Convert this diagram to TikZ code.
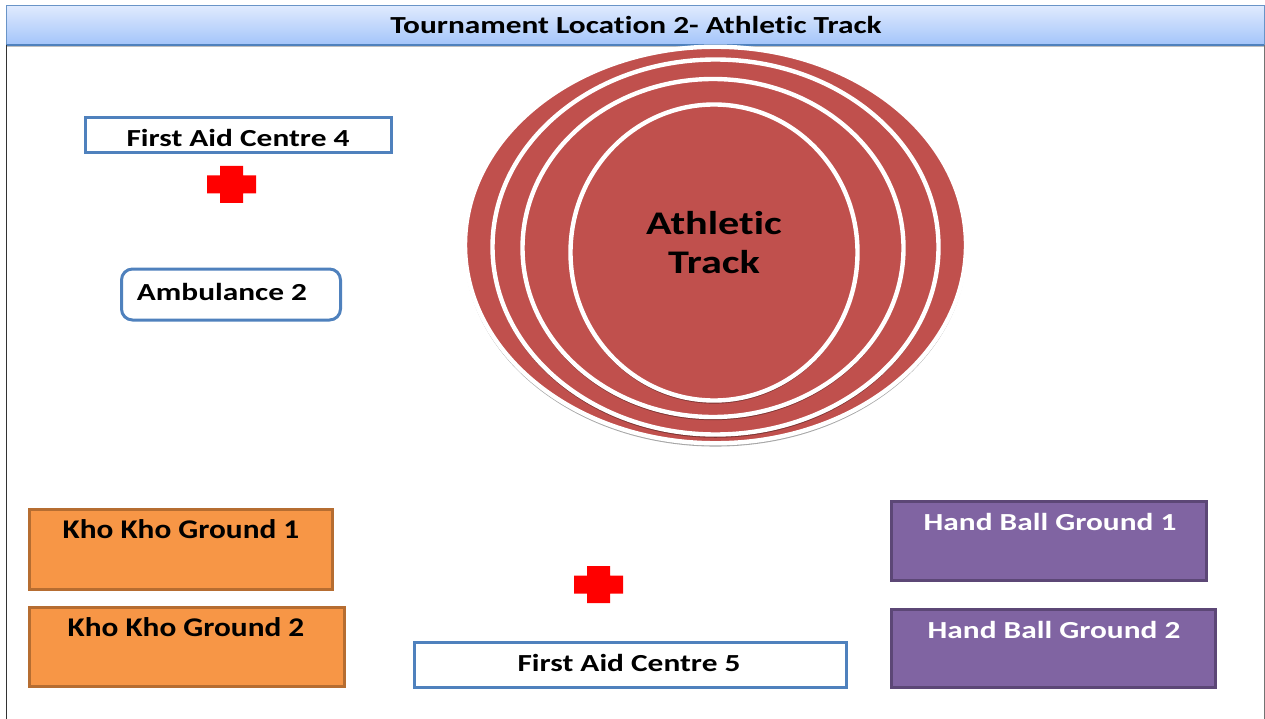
\documentclass[tikz,border=0pt]{standalone}
\usepackage{fontspec}
\setmainfont[FakeStretch=1.28,Ligatures=NoCommon]{Carlito}
\newfontfamily\plainfont[FakeStretch=1.16,Ligatures=NoCommon]{Carlito}
\usetikzlibrary{shapes.geometric,shadows}

\definecolor{headtop}{HTML}{DFEAFE}
\definecolor{headbot}{HTML}{A3C4FA}
\definecolor{blueline}{HTML}{4F81BD}
\definecolor{trackred}{HTML}{C0504D}
\definecolor{khofill}{HTML}{F79646}
\definecolor{khoedge}{HTML}{B66D31}
\definecolor{handfill}{HTML}{8064A2}
\definecolor{handedge}{HTML}{5C4776}

\tikzset{
  softshadow/.style={drop shadow={shadow xshift=0pt,shadow yshift=-2.5pt,shadow scale=1.004,opacity=.35,fill=black}},
  headshadow/.style={drop shadow={shadow xshift=0pt,shadow yshift=-2.5pt,opacity=.25,fill=black}},
  track/.style={ellipse,fill=trackred,draw=white,line width=4.4pt,inner sep=0pt,outer sep=0pt,softshadow},
  aidbox/.style={rectangle,draw=blueline,line width=3pt,fill=white,inner sep=0pt,outer sep=0pt},
  khobox/.style={rectangle,draw=khoedge,fill=khofill,line width=3pt,inner sep=0pt,outer sep=0pt},
  handbox/.style={rectangle,draw=handedge,fill=handfill,line width=3pt,inner sep=0pt,outer sep=0pt},
  boxtext/.style={font=\fontsize{24.5}{29}\selectfont\bfseries,inner sep=0pt},
  khotext/.style={font=\fontsize{27}{32}\selectfont\bfseries\plainfont,inner sep=0pt},
  redcross/.pic={
    \fill[red] (-24.5,-9) -- (-11.5,-9) -- (-11.5,-18.5) -- (11.5,-18.5) -- (11.5,-9) -- (24.5,-9)
      -- (24.5,9) -- (11.5,9) -- (11.5,18.5) -- (-11.5,18.5) -- (-11.5,9) -- (-24.5,9) -- cycle;
  }
}

\begin{document}
\begin{tikzpicture}[x=1pt,y=-1pt]
  \useasboundingbox (0,0) rectangle (1265,719);
  \coordinate (pagefoot) at (0,719);

  % header bar
  \node [rectangle,minimum width=1258pt,minimum height=39pt,inner sep=0pt,outer sep=0pt,
    top color=headtop,bottom color=headbot,draw=blueline!85,line width=1pt,headshadow,
    boxtext] (title) at (635,25.5) {};
  \draw [blueline,line width=2pt] (title.south west) -- (title.south east);
  \node [boxtext] (titletext) at (636,25) {Tournament Location 2- Athletic Track};
  \draw [black!80,line width=1pt] (title.south west) -- (title.south west |- pagefoot);
  \draw [black!55,line width=1pt] (title.south east) -- (title.south east |- pagefoot);

  % track
  \node [track,minimum width=501pt,minimum height=396.5pt] (ring1) at (715.5,245) {};
  \node [track,minimum width=446pt,minimum height=375pt] (ring2) at (715.5,247) {};
  \node [track,minimum width=381pt,minimum height=338pt] (ring3) at (713,248) {};
  \node [track,minimum width=287pt,minimum height=296pt] (ring4) at (714,252.5) {};
  \node [font=\fontsize{33}{39}\selectfont\bfseries,align=center,inner sep=0pt] (tracktext)
    at (714,243) {Athletic\\Track};

  % first aid and ambulance
  \node [aidbox,minimum width=306pt,minimum height=35pt] (aid4) at (238,135.5) {};
  \node [boxtext] (aid4text) at (238,138) {First Aid Centre 4};
  \pic at (231.5,184.5) {redcross};
  \node [aidbox,rounded corners=11pt,minimum width=219pt,minimum height=51pt] (amb) at (231,294.5) {};
  \node [boxtext] (ambtext) at (222,291.5) {Ambulance 2};

  \pic at (598.5,584.5) {redcross};
  \node [aidbox,minimum width=432pt,minimum height=45pt] (aid5) at (630,664.5) {};
  \node [boxtext] (aid5text) at (629,662.5) {First Aid Centre 5};

  % grounds
  \node [khobox,minimum width=303pt,minimum height=80pt] (kho1) at (181,549.5) {};
  \node [khobox,minimum width=315pt,minimum height=79pt] (kho2) at (186.5,647) {};
  \node [khotext] (kho1text) at (181,529.5) {Kho Kho Ground 1};
  \node [khotext] (kho2text) at (186,627.5) {Kho Kho Ground 2};

  \node [handbox,minimum width=315pt,minimum height=79pt] (hand1) at (1049,541) {};
  \node [handbox,minimum width=324pt,minimum height=78pt] (hand2) at (1053.5,648.5) {};
  \node [boxtext,white] (hand1text) at (1050,521.5) {Hand Ball Ground 1};
  \node [boxtext,white] (hand2text) at (1054,629.5) {Hand Ball Ground 2};
\end{tikzpicture}
\end{document}
